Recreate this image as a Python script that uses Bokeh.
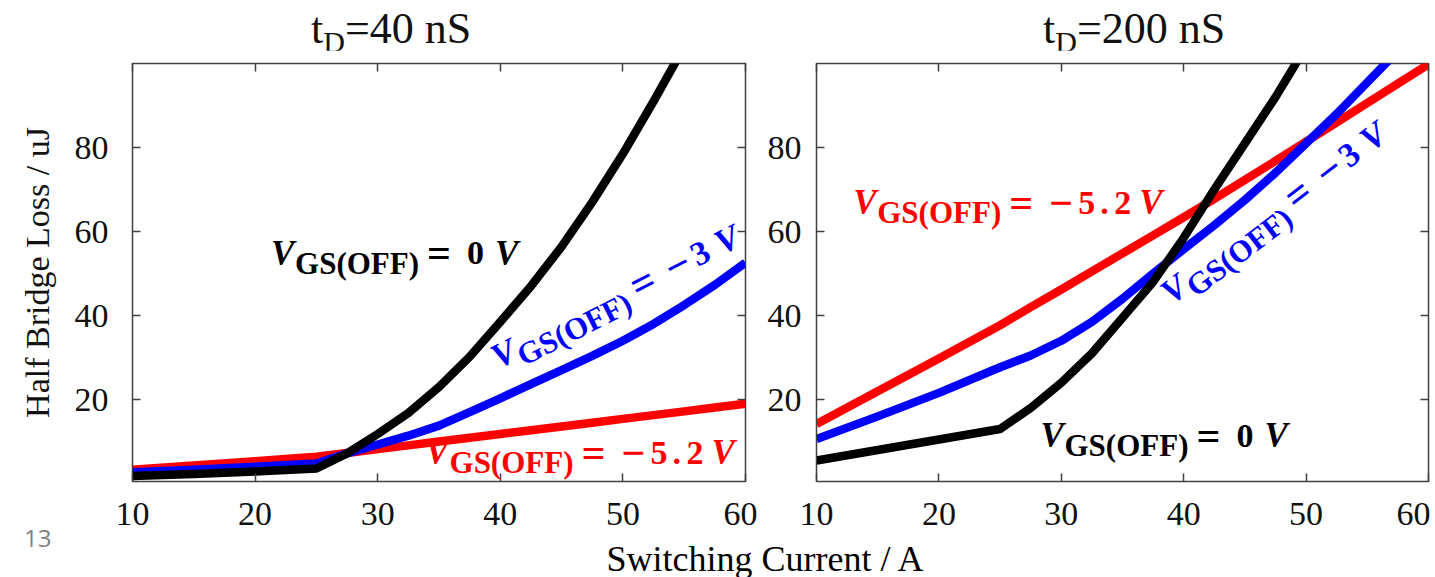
import math
from bokeh.plotting import figure
from bokeh.models import Label, LinearAxis, FixedTicker, Range1d, Div
from bokeh.layouts import row, column
from bokeh.embed import file_html
from bokeh.resources import INLINE

# ---------------- data ----------------
panel_titles = [("t", "D", "=40 nS"), ("t", "D", "=200 nS")]
x_axis_title = "Switching Current / A"
y_axis_title = "Half Bridge Loss / uJ"
slide_number = "13"
x_ticks = [10, 20, 30, 40, 50, 60]
y_ticks = [20, 40, 60, 80]

current = [10, 15, 20, 25, 27.5, 30, 32.5, 35, 37.5, 40, 42.5, 45, 47.5, 50, 52.5, 55, 57.5, 60]

# t_D = 40 nS
black40_x = [10, 15, 20, 25, 27.5, 30, 32.5, 35, 37.5, 40, 42.5, 45, 47.5, 50, 52.5, 55]
black40_y = [1.8, 2.3, 2.9, 3.6, 7.2, 11.8, 16.8, 23.0, 30.2, 38.5, 47.0, 56.4, 67.0, 78.5, 91.0, 104.0]
blue40_y = [2.7, 3.3, 4.0, 4.8, 7.2, 9.3, 11.4, 13.8, 17.0, 20.3, 23.7, 27.0, 30.4, 34.0, 38.0, 42.5, 47.3, 52.6]
red40_y = [3.3, 4.3, 5.3, 6.4, 7.3, 8.2, 9.1, 10.0, 10.9, 11.8, 12.7, 13.6, 14.5, 15.4, 16.3, 17.2, 18.1, 19.0]

# t_D = 200 nS
black200_x = [10, 15, 20, 25, 27.5, 30, 32.5, 35, 37.5, 40, 42.5, 45, 47.5, 50]
black200_y = [5.5, 8.0, 10.5, 13.0, 18.0, 24.0, 31.0, 39.5, 48.0, 58.5, 70.0, 81.0, 92.0, 104.0]
blue200_x = [10, 15, 20, 25, 27.5, 30, 32.5, 35, 37.5, 40, 42.5, 45, 47.5, 50, 52.5, 55, 57.5]
blue200_y = [10.6, 16.0, 21.6, 27.7, 30.5, 34.0, 38.5, 44.0, 50.0, 55.8, 61.5, 67.5, 74.0, 81.0, 88.0, 95.5, 103.0]
red200_y = [14.2, 22.0, 29.8, 37.7, 42.0, 46.2, 50.5, 54.8, 59.1, 63.4, 67.8, 72.3, 76.8, 81.4, 86.0, 90.6, 95.2, 99.8]

series_labels = {"0V": "0", "3V": "\u22123", "5V": "\u22125.2"}

# ---------------- styling ----------------
SERIF = "Liberation Serif"
FRAME = "#404040"
LW = 8.5
BASE_FIX = -13  # px, moves label pieces up onto their baseline


def make_fig(width, mbl, mbr):
    p = figure(width=width, height=491, x_range=Range1d(10, 60), y_range=Range1d(0.5, 100),
               output_backend="svg", toolbar_location=None, title=None,
               min_border_left=mbl, min_border_right=mbr, min_border_top=13, min_border_bottom=60)
    p.grid.visible = False
    p.outline_line_color = FRAME
    p.outline_line_width = 1.5
    p.background_fill_color = "white"
    p.border_fill_color = "white"
    p.xaxis.ticker = FixedTicker(ticks=x_ticks)
    p.yaxis.ticker = FixedTicker(ticks=y_ticks)
    for ax in (p.xaxis[0], p.yaxis[0]):
        ax.major_tick_in = 8
        ax.major_tick_out = 0
        ax.minor_tick_line_color = None
        ax.axis_line_color = FRAME
        ax.major_tick_line_color = FRAME
        ax.major_tick_line_width = 1.5
        ax.major_label_text_font = SERIF
        ax.major_label_text_font_size = "34px"
        ax.major_label_text_color = "#111111"
    p.xaxis.major_label_standoff = 21
    for loc, tk in (("above", x_ticks), ("right", y_ticks)):
        ax = LinearAxis(ticker=FixedTicker(ticks=tk),
                        major_label_overrides={t: "" for t in tk},
                        major_label_text_font_size="1px",
                        major_label_standoff=0, major_tick_in=8, major_tick_out=0,
                        minor_tick_line_color=None, axis_line_color=None,
                        major_tick_line_color=FRAME, major_tick_line_width=1.5)
        p.add_layout(ax, loc)
    return p


def math_label(p, x, y, angle_deg, color, pieces):
    th = math.radians(angle_deg)
    c, s = math.cos(th), math.sin(th)
    for text, dx, dy, size, style in pieces:
        dy = dy + BASE_FIX
        p.add_layout(Label(x=x, y=y, x_units="data", y_units="data",
                           x_offset=dx * c + dy * s, y_offset=dx * s - dy * c, angle=th,
                           text=text, text_font=SERIF, text_font_size=f"{size}px",
                           text_font_style=style, text_color=color,
                           text_align="left", text_baseline="alphabetic"))


def vgs_pieces(value, kind):
    head = [("V", 0, 0, 35, "bold italic"), ("GS(OFF)", 24, 10, 31, "bold"), ("=", 156, 0, 42, "bold")]
    if kind == "0":
        rest = [(value, 196, 0, 34, "bold"), ("V", 224, 0, 35, "bold italic")]
    elif kind == "3":
        rest = [(value[0], 195, 0, 42, "bold"), (value[1:], 224, 0, 34, "bold"),
                ("V", 251, 0, 35, "bold italic")]
    else:
        rest = [(value[0], 196, 0, 42, "bold"), (value[1], 225, 0, 34, "bold"),
                (value[2], 247, 0, 34, "bold"), (value[3], 261, 0, 34, "bold"),
                ("V", 286, 0, 35, "bold italic")]
    return head + rest


# ---------------- left panel ----------------
p1 = make_fig(757, 132, 12)
p1.yaxis[0].major_label_standoff = 24
p1.yaxis[0].axis_label = y_axis_title
p1.yaxis[0].axis_label_text_font = SERIF
p1.yaxis[0].axis_label_text_font_size = "34px"
p1.yaxis[0].axis_label_text_font_style = "normal"
p1.yaxis[0].axis_label_text_color = "#111111"
p1.yaxis[0].axis_label_standoff = 16

p1.line(current, red40_y, line_color="#ff0000", line_width=LW, line_join="round")
p1.line(current, blue40_y, line_color="#0000ff", line_width=LW, line_join="round")
p1.line(black40_x, black40_y, line_color="#000000", line_width=LW, line_join="round")

math_label(p1, 21.3, 51.7, 0, "#000000", vgs_pieces(series_labels["0V"], "0"))
math_label(p1, 39.9, 26.9, 27, "#0000ff", vgs_pieces(series_labels["3V"], "3"))
math_label(p1, 33.9, 4.3, 0, "#ff0000", vgs_pieces(series_labels["5V"], "5"))

# ---------------- right panel ----------------
p2 = make_fig(673, 59, 2)
p2.yaxis[0].major_label_standoff = 15

p2.line(current, red200_y, line_color="#ff0000", line_width=LW, line_join="round")
p2.line(blue200_x, blue200_y, line_color="#0000ff", line_width=LW, line_join="round")
p2.line(black200_x, black200_y, line_color="#000000", line_width=LW, line_join="round")

math_label(p2, 13.0, 63.8, 0, "#ff0000", vgs_pieces(series_labels["5V"], "5"))
math_label(p2, 28.3, 8.3, 0, "#000000", vgs_pieces(series_labels["0V"], "0"))
math_label(p2, 39.1, 42.1, 37.5, "#0000ff", vgs_pieces(series_labels["3V"], "3"))

# ---------------- title strip ----------------
def title_html(left, parts):
    t, sub, rest = parts
    return (f'<div style="position:absolute;left:{left}px;top:7px;font-family:\'Liberation Serif\';'
            f'font-size:44px;line-height:44px;white-space:nowrap;color:#111;">{t}'
            f'<span style="position:relative;top:9px;font-size:30px;">{sub}</span>{rest}</div>')

top_html = ('<div style="position:relative;width:1430px;height:50px;">'
            + title_html(311, panel_titles[0]) + title_html(1043, panel_titles[1]) + '</div>')
top_div = Div(text=top_html, width=1430, height=50, margin=0)

# ---------------- bottom strip ----------------
html = (
    '<div style="position:relative;width:1430px;height:36px;">'
    f'<div style="position:absolute;left:24px;top:-15px;font-family:\'Open Sans\';font-size:24px;'
    f'line-height:24px;color:#7f7f7f;">{slide_number}</div>'
    f'<div style="position:absolute;left:465px;width:600px;top:0px;text-align:center;'
    f'font-family:\'Liberation Serif\';font-size:36px;line-height:36px;color:#000;">{x_axis_title}</div>'
    '</div>'
)
div = Div(text=html, width=1430, height=36, margin=0)

layout = column(top_div, row(p1, p2), div)
open("out.html", "w").write(file_html(layout, INLINE))
